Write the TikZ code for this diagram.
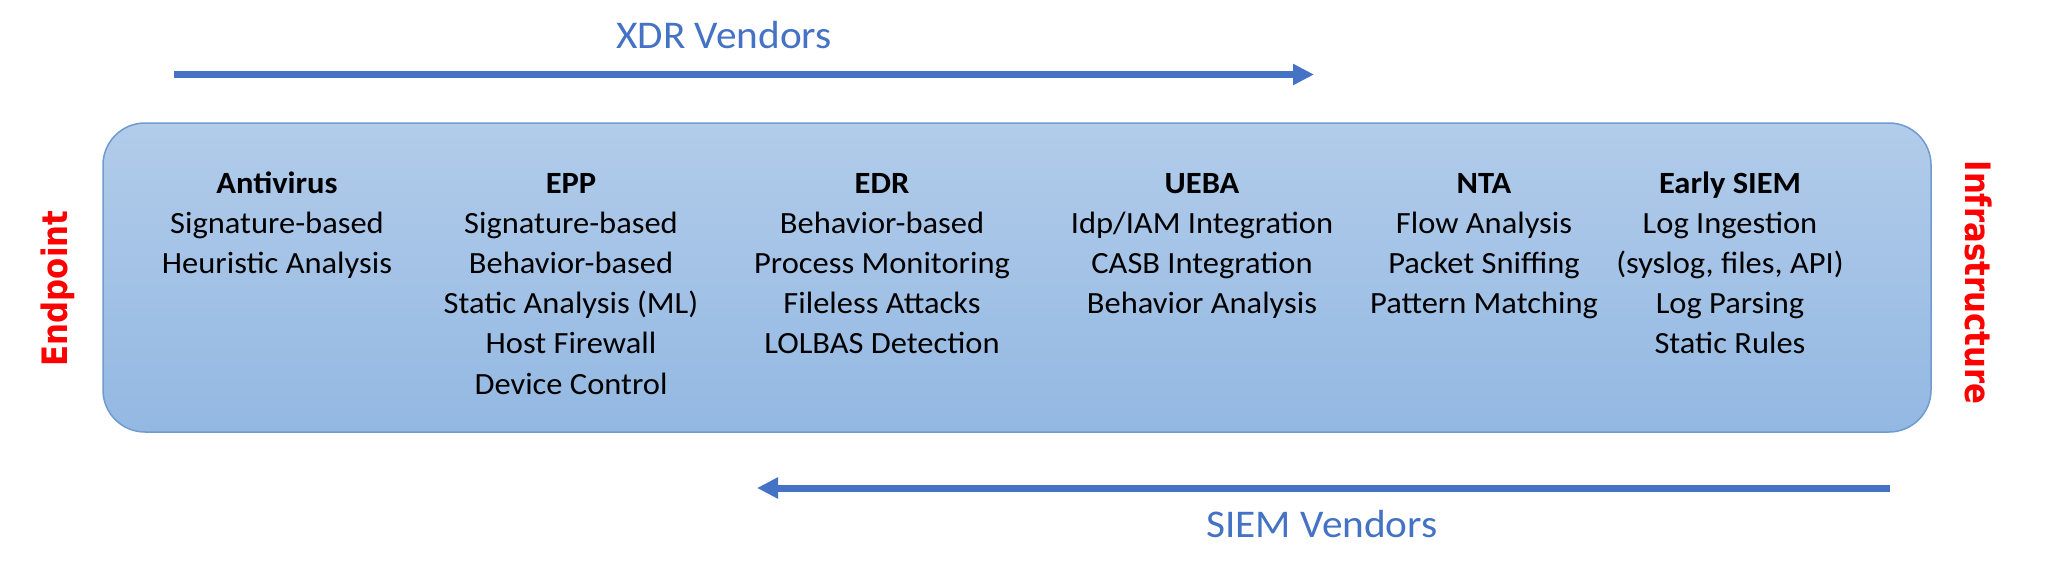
\documentclass[tikz,border=0pt]{standalone}
\usepackage{fontspec}
\setmainfont{Carlito}
\newfontfamily\labelfont{DejaVu Sans}
\usetikzlibrary{arrows.meta}
\definecolor{arrowblue}{HTML}{4472C4}
\definecolor{bandtop}{HTML}{B2CCEA}
\definecolor{bandbottom}{HTML}{93B8E2}
\definecolor{bandborder}{HTML}{6F9BD0}
\definecolor{sidered}{HTML}{FF0000}
\begin{document}
\begin{tikzpicture}[x=1pt,y=-1pt,
  vendor/.style={font=\fontsize{41.3}{48}\selectfont, text=arrowblue, inner sep=0pt, anchor=base, yscale=0.95},
  flow/.style={line width=7pt, draw=arrowblue, -{Triangle[length=21pt,width=20pt]}},
  band/.style={draw=bandborder, line width=1.5pt, top color=bandtop, bottom color=bandbottom, rounded corners=42pt, inner sep=0pt},
  col/.style={font=\fontsize{32.5}{42.3}\selectfont, align=center, inner sep=0pt, anchor=north, yscale=0.95},
  side/.style={font=\labelfont\bfseries\fontsize{35}{40}\selectfont, text=sidered, inner sep=0pt}
]
\fill[white] (0,0) rectangle (2049,571);
\useasboundingbox (0,0) rectangle (2049,571);

% vendor arrows
\node[vendor] (xdr) at (724,48.3) {XDR Vendors};
\coordinate (xdrA) at (174,74.5);
\coordinate (xdrB) at (1314,74.5);
\draw[flow] (xdrA) -- (xdrB);

\node[vendor] (siem) at (1322,537) {SIEM Vendors};
\coordinate (siemA) at (1890,488);
\coordinate (siemB) at (757,488);
\draw[flow] (siemA) -- (siemB);

% band
\node[band, minimum width=1828pt, minimum height=309pt] (bandbox) at (1017,277.5) {};

% columns
\node[col] (av) at (277,168.3) {\rule{0pt}{26pt}\textbf{Antivirus}\\Signature-based\\Heuristic Analysis};
\node[col] (epp) at (571,168.3) {\rule{0pt}{26pt}\textbf{EPP}\\Signature-based\\Behavior-based\\Static Analysis (ML)\\Host Firewall\\Device Control};
\node[col] (edr) at (882,168.3) {\rule{0pt}{26pt}\textbf{EDR}\\Behavior-based\\Process Monitoring\\Fileless Attacks\\LOLBAS Detection};
\node[col] (ueba) at (1202,168.3) {\rule{0pt}{26pt}\textbf{UEBA}\\Idp/IAM Integration\\CASB Integration\\Behavior Analysis};
\node[col] (nta) at (1484,168.3) {\rule{0pt}{26pt}\textbf{NTA}\\Flow Analysis\\Packet Sniffing\\Pattern Matching};
\node[col] (siemcol) at (1730,168.3) {\rule{0pt}{26pt}\textbf{Early SIEM}\\Log Ingestion\\(syslog, files, API)\\Log Parsing\\Static Rules};

% side labels
\node[side, rotate=90, xscale=0.88] (endpoint) at (57.5,288.5) {Endpoint};
\node[side, rotate=-90, xscale=0.88] (infra) at (1979,282.5) {Infrastructure};
\end{tikzpicture}
\end{document}
